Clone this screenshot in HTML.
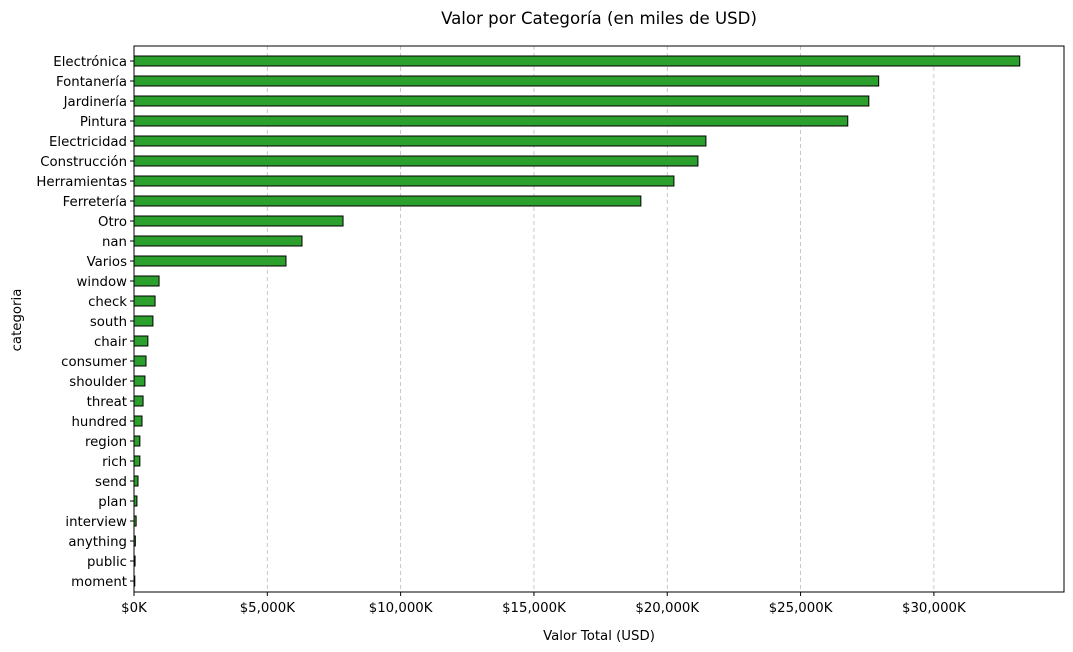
<!DOCTYPE html>
<html><head><meta charset="utf-8"><style>
html,body{margin:0;padding:0;background:#fff;}
svg{display:block;font-family:"DejaVu Sans","Liberation Sans",sans-serif;}
</style></head><body>
<svg id="chart" width="1073" height="652">
<text x="599" y="24" text-anchor="middle" font-size="16.6">Valor por Categoría (en miles de USD)</text>
<text x="599" y="640" text-anchor="middle" font-size="13.3">Valor Total (USD)</text>
<text transform="translate(21,320) rotate(-90)" text-anchor="middle" font-size="13.3">categoria</text>
<g id="grid"></g><g id="bars"></g><g id="yticks"></g><g id="xticks"></g>
<rect x="134" y="46" width="930" height="546" fill="none" stroke="#000" stroke-width="1"/>
</svg>
<script>
const categories=["Electrónica","Fontanería","Jardinería","Pintura","Electricidad","Construcción","Herramientas","Ferretería","Otro","nan","Varios","window","check","south","chair","consumer","shoulder","threat","hundred","region","rich","send","plan","interview","anything","public","moment"];
const values=[33220,27930,27560,26770,21450,21150,20250,19010,7840,6300,5700,940,790,710,520,450,410,340,300,220,220,150,110,80,50,40,30];
const xTicks=[0,5000,10000,15000,20000,25000,30000];
const xTickLabels=["$0K","$5,000K","$10,000K","$15,000K","$20,000K","$25,000K","$30,000K"];
const NS="http://www.w3.org/2000/svg";
const L=134,R=1064,T=46,B=592,xMax=34880;
const x=v=>L+v/xMax*(R-L);
const y=i=>61+i*20;
function mk(tag,attrs,parent){const e=document.createElementNS(NS,tag);for(const k in attrs)e.setAttribute(k,attrs[k]);document.getElementById(parent).appendChild(e);return e;}
xTicks.forEach((t,i)=>{
 if(i>0){const g=mk("line",{x1:x(t),x2:x(t),y1:T,y2:B,stroke:"#bbb","stroke-dasharray":"4,3","stroke-width":0.8},"grid");
 
 }
 const tk=mk("line",{x1:x(t),x2:x(t),y1:B,y2:B+4,stroke:"#000"},"xticks");
 
 
 const tx=mk("text",{x:x(t),y:B+20,"text-anchor":"middle","font-size":13.3},"xticks");
 tx.textContent=xTickLabels[i];
 
 
});
categories.forEach((c,i)=>{
 const b=mk("rect",{x:L,y:y(i)-5,width:Math.max(x(values[i])-L,0.5),height:10,fill:"#2ca02c",stroke:"#000","stroke-width":1},"bars");
 
 
 const tk=mk("line",{x1:L-4,x2:L,y1:y(i),y2:y(i),stroke:"#000"},"yticks");
 
 
 const tx=mk("text",{x:L-7,y:y(i)+5,"text-anchor":"end","font-size":13.3},"yticks");
 tx.textContent=c;
 
 
});
</script>
</body></html>
